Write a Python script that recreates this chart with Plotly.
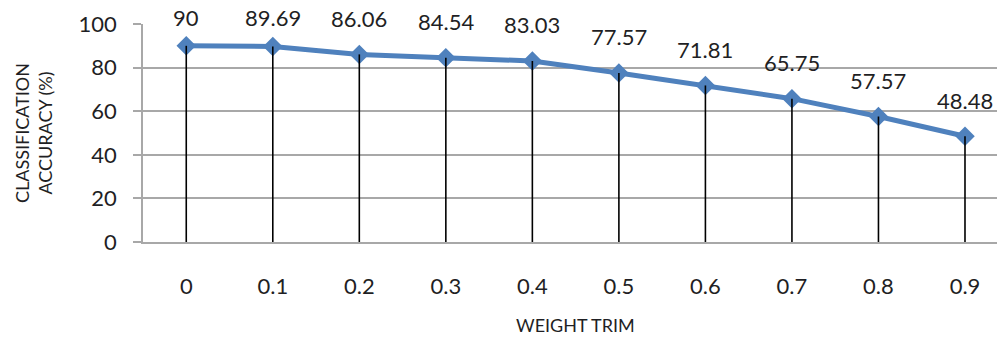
import plotly.graph_objects as go

weight_trim = ["0", "0.1", "0.2", "0.3", "0.4", "0.5", "0.6", "0.7", "0.8", "0.9"]
accuracy = [90, 89.69, 86.06, 84.54, 83.03, 77.57, 71.81, 65.75, 57.57, 48.48]
label_text = ["90", "89.69", "86.06", "84.54", "83.03", "77.57", "71.81", "65.75", "57.57", "48.48"]

FONT = "Lato"
TXT = "#1f1f24"
GRID = "#a8a8a8"
W, H = 997, 343
ML, MR, MT, MB = 143, 0, 24, 101
plot_h = H - MT - MB

fig = go.Figure()
fig.add_trace(go.Scatter(
    x=weight_trim, y=accuracy, mode="lines+markers",
    line=dict(color="#4F81BD", width=5),
    marker=dict(symbol="diamond", size=15, color="#4F81BD"),
    showlegend=False, hoverinfo="skip",
))
fig.add_trace(go.Scatter(
    x=weight_trim, y=accuracy, mode="markers",
    marker=dict(size=1, opacity=0),
    error_y=dict(type="data", symmetric=False, array=[0] * len(accuracy),
                 arrayminus=accuracy, color="black", thickness=1.6, width=0),
    showlegend=False, hoverinfo="skip",
))

# data labels (x given as category index)
for i, (v, t) in enumerate(zip(accuracy, label_text)):
    px = plot_h * (1 - v / 100)
    center = max(px - 36, 17.5 - MT)
    fig.add_annotation(x=i, xref="x", y=v, yref="y", text=t, showarrow=False,
                       yshift=px - center, yanchor="middle",
                       font=dict(family=FONT, size=22, color=TXT))

fig.add_annotation(x=(len(weight_trim) - 1) / 2, xref="x", y=-83 / plot_h,
                   yref="paper", text="WEIGHT TRIM", showarrow=False,
                   font=dict(family=FONT, size=18, color=TXT), yanchor="middle")
fig.add_annotation(x=(33 - ML) / (W - ML), xref="paper", y=0.5, yref="paper",
                   text="CLASSIFICATION<br>ACCURACY (%)", showarrow=False, textangle=-90,
                   font=dict(family=FONT, size=18, color=TXT), xanchor="center", yanchor="middle")

fig.update_layout(
    width=W, height=H, margin=dict(l=ML, r=MR, t=MT, b=MB),
    paper_bgcolor="white", plot_bgcolor="white",
    xaxis=dict(type="category", range=[-0.5, 9.37], showgrid=False, showline=True,
               linecolor=GRID, linewidth=1.5, ticks="", ticklabelstandoff=24,
               tickfont=dict(family=FONT, size=22, color=TXT), zeroline=False),
    yaxis=dict(range=[0, 100], dtick=20, showgrid=True, gridcolor=GRID, gridwidth=1.5,
               showline=True, linecolor=GRID, linewidth=1.5, ticks="outside",
               ticklen=8, tickcolor=GRID, tickwidth=1.5, ticklabelstandoff=12,
               tickfont=dict(family=FONT, size=22, color=TXT), zeroline=False),
)
fig.write_html("out.html")
